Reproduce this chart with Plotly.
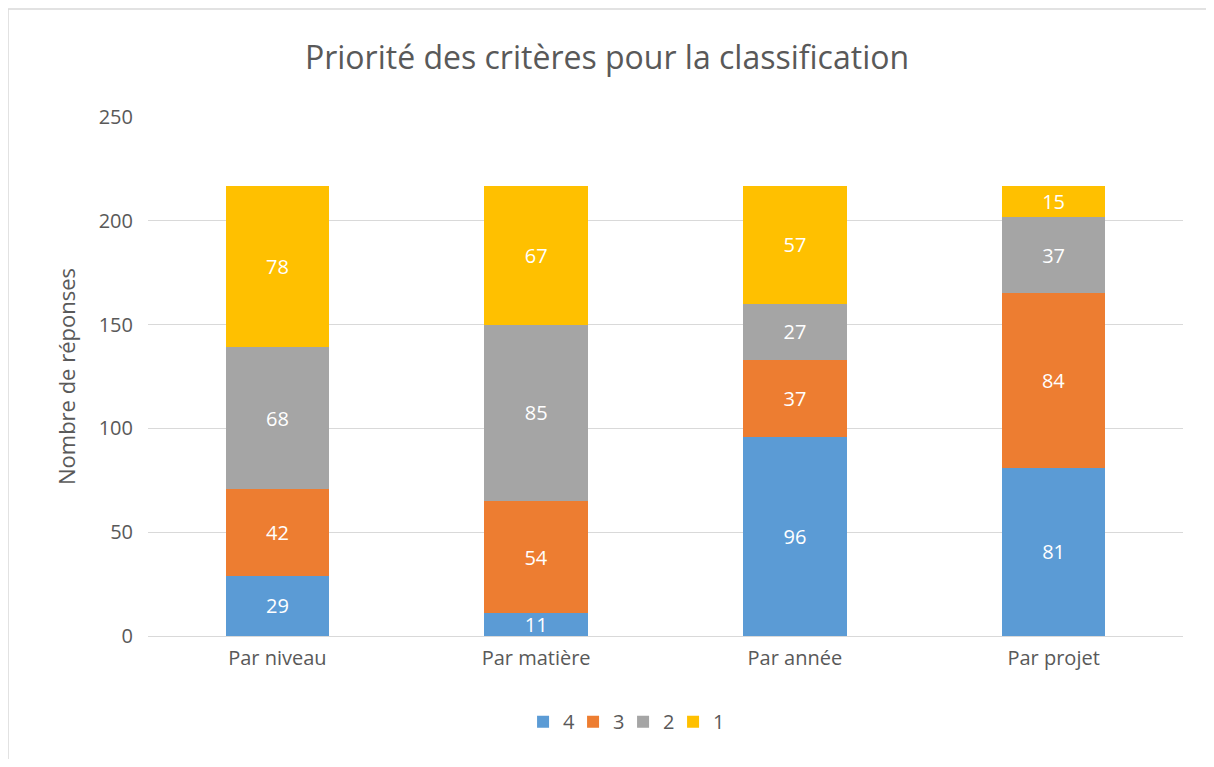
import plotly.graph_objects as go

categories = ["Par niveau", "Par matière", "Par année", "Par projet"]
series_names = ["4", "3", "2", "1"]
val_4 = [29, 11, 96, 81]
val_3 = [42, 54, 37, 84]
val_2 = [68, 85, 27, 37]
val_1 = [78, 67, 57, 15]

colors = ["#5B9BD5", "#ED7D31", "#A5A5A5", "#FFC000"]

fig = go.Figure()

for name, vals, col in zip(series_names, [val_4, val_3, val_2, val_1], colors):
    fig.add_trace(
        go.Bar(
            x=categories,
            y=vals,
            name=name,
            marker=dict(color=col, line=dict(width=0)),
            text=vals,
            textposition="inside",
            insidetextanchor="middle",
            textfont=dict(color="white", size=20, family="Open Sans"),
            textangle=0,
            cliponaxis=False,
        )
    )

# bord gris du graphique : seulement gauche et haut sont visibles
bord = dict(color="#D9D9D9", width=1.5)
fig.add_shape(type="line", xref="paper", yref="paper",
              x0=-140 / 1035, x1=-140 / 1035, y0=-0.5, y1=1 + 108 / 519,
              line=bord, layer="below")
fig.add_shape(type="line", xref="paper", yref="paper",
              x0=-140 / 1035, x1=1.3, y0=1 + 108 / 519, y1=1 + 108 / 519,
              line=bord, layer="below")

fig.update_layout(
    barmode="stack",
    bargap=0.6,
    width=1198,
    height=751,
    margin=dict(l=140, r=23, t=109, b=123, autoexpand=False),
    paper_bgcolor="white",
    plot_bgcolor="white",
    font=dict(family="Open Sans", color="#595959", size=20),
    uniformtext=dict(minsize=20, mode="show"),
    title=dict(
        text="Priorité des critères pour la classification",
        x=0.5,
        xanchor="center",
        y=1 - 50 / 751,
        yanchor="middle",
        font=dict(size=32, color="#595959"),
    ),
    yaxis=dict(
        range=[0, 250],
        dtick=50,
        showgrid=True,
        gridcolor="#D9D9D9",
        gridwidth=1.3,
        zeroline=True,
        zerolinecolor="#D9D9D9",
        zerolinewidth=1.3,
        ticks="",
        ticklabelstandoff=14,
        title=dict(text="Nombre de réponses", standoff=16, font=dict(size=22)),
    ),
    xaxis=dict(
        showgrid=False,
        ticks="",
        showline=False,
        ticklabelstandoff=8,
        tickangle=0,
    ),
    legend=dict(
        orientation="h",
        x=0.459,
        xanchor="center",
        y=-0.165,
        yanchor="middle",
        traceorder="normal",
        font=dict(size=20),
        itemwidth=30,
        entrywidth=5,
        entrywidthmode="pixels",
    ),
    showlegend=True,
)

fig.write_html("out.html")
